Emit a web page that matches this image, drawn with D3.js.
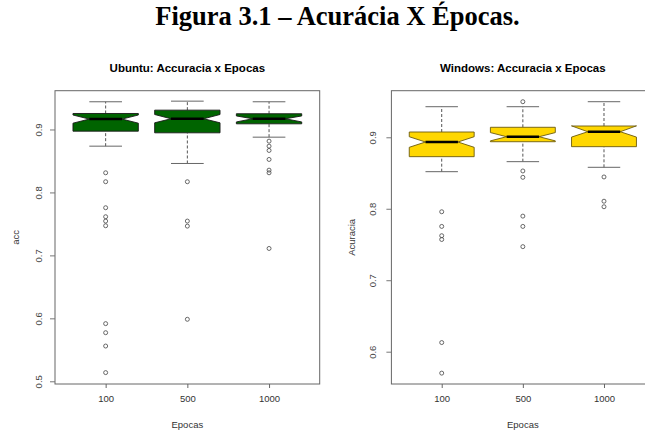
<!DOCTYPE html>
<html>
<head>
<meta charset="utf-8">
<script src="https://cdn.jsdelivr.net/npm/d3@7"></script>
<style>
  body { margin: 0; background: #fff; }
  svg { display: block; }
</style>
</head>
<body>
<div class="chart"></div>
<script>
// categories (x axis)
const epocas = ["100", "500", "1000"];

// box stats per epoch: [whiskerLo, Q1, median, Q3, whiskerHi], notches [lo, hi]
const ubuntuStats = [
    [0.8735, 0.8973, 0.9165, 0.9254, 0.9440],
    [0.8460, 0.8947, 0.9170, 0.9307, 0.9450],
    [0.8878, 0.9090, 0.9170, 0.9250, 0.9440]
];
const ubuntuNotch = [[0.9100, 0.9230], [0.9106, 0.9238], [0.9120, 0.9215]];
const ubuntuOut = [
    [0.8312, 0.8170, 0.7757, 0.7614, 0.7545, 0.7471, 0.5916, 0.5772, 0.5560, 0.5138],
    [0.8170, 0.7545, 0.7465, 0.5985],
    [0.8815, 0.8735, 0.8667, 0.8524, 0.8354, 0.8312, 0.7110]
];
const ubuntuTicks = [0.5, 0.6, 0.7, 0.8, 0.9];

const windowsStats = [
    [0.8519, 0.8729, 0.8934, 0.9074, 0.9428],
    [0.8659, 0.8938, 0.9008, 0.9140, 0.9428],
    [0.8580, 0.8869, 0.9078, 0.9158, 0.9498]
];
const windowsNotch = [[0.8860, 0.9008], [0.8950, 0.9066], [0.9003, 0.9160]];
const windowsOut = [
    [0.7958, 0.7753, 0.7623, 0.7570, 0.6128, 0.5700],
    [0.9498, 0.8529, 0.8440, 0.7897, 0.7753, 0.7470],
    [0.8445, 0.8106, 0.8028]
];
const windowsTicks = [0.6, 0.7, 0.8, 0.9];

const width = 645;
const height = 430;

const svg = d3.select(".chart")
    .append("svg")
    .attr("width", width)
    .attr("height", height);

// figure caption
svg.append("text")
    .attr("x", 337.5)
    .attr("y", 25)
    .attr("text-anchor", "middle")
    .style("font-family", "'Liberation Serif', 'Times New Roman', serif")
    .style("font-weight", "bold")
    .style("font-size", "26.5px")
    .text("Figura 3.1 – Acurácia X Épocas.");

function drawPanel(opt) {
    const g = svg.append("g");

    // x: box index 1..3, R style limits (0.5..3.5 plus 4%)
    const x = d3.scaleLinear()
        .domain([0.38, 3.62])
        .range([opt.left, opt.right]);

    const y = d3.scaleLinear()
        .domain(opt.ylim)
        .range([opt.bottom, opt.top]);

    const halfW = x(1.4) - x(1);   // box half width (0.8 of spacing)

    // whiskers (dashed) + caps
    opt.stats.forEach((s, i) => {
        const cx = x(i + 1);
        g.append("line")
            .attr("x1", cx).attr("x2", cx)
            .attr("y1", y(s[0])).attr("y2", y(s[1]))
            .attr("stroke", "#555").attr("stroke-dasharray", "3,2");
        g.append("line")
            .attr("x1", cx).attr("x2", cx)
            .attr("y1", y(s[3])).attr("y2", y(s[4]))
            .attr("stroke", "#555").attr("stroke-dasharray", "3,2");
        [s[0], s[4]].forEach(v => {
            g.append("line")
                .attr("x1", cx - halfW / 2).attr("x2", cx + halfW / 2)
                .attr("y1", y(v)).attr("y2", y(v))
                .attr("stroke", "#666");
        });
    });

    // notched boxes, same polygon as R's bxp
    opt.stats.forEach((s, i) => {
        const cx = x(i + 1);
        const n = opt.notch[i];
        const pts = [
            [cx - halfW, y(s[1])], [cx - halfW, y(n[0])], [cx - halfW / 2, y(s[2])],
            [cx - halfW, y(n[1])], [cx - halfW, y(s[3])], [cx + halfW, y(s[3])],
            [cx + halfW, y(n[1])], [cx + halfW / 2, y(s[2])], [cx + halfW, y(n[0])],
            [cx + halfW, y(s[1])]
        ];
        g.append("polygon")
            .attr("points", pts.map(p => p.join(",")).join(" "))
            .attr("fill", opt.color)
            .attr("stroke", opt.border)
            .attr("stroke-width", 0.9);
        // median
        g.append("line")
            .attr("x1", cx - halfW / 2).attr("x2", cx + halfW / 2)
            .attr("y1", y(s[2])).attr("y2", y(s[2]))
            .attr("stroke", "black").attr("stroke-width", 2.5);
    });

    // outliers
    opt.out.forEach((vals, i) => {
        g.append("g")
            .selectAll("circle")
            .data(vals)
            .enter()
            .append("circle")
            .attr("cx", x(i + 1))
            .attr("cy", d => y(d))
            .attr("r", 2)
            .attr("fill", "none")
            .attr("stroke", "#444")
            .attr("stroke-width", 0.8);
    });

    // frame
    g.append("rect")
        .attr("x", opt.left).attr("y", opt.top)
        .attr("width", opt.right - opt.left)
        .attr("height", opt.bottom - opt.top)
        .attr("fill", "none")
        .attr("stroke", "#666");

    // y axis, labels turned like R's las=0
    const yAxis = g.append("g")
        .attr("transform", `translate(${opt.left},0)`)
        .call(d3.axisLeft(y).tickValues(opt.ticks).tickSize(5).tickFormat(d3.format(".1f")));
    yAxis.select(".domain").remove();
    yAxis.selectAll("line").attr("stroke", "#777");
    yAxis.selectAll("text")
        .attr("x", 0)
        .attr("dy", "0.35em")
        .attr("text-anchor", "middle")
        .attr("transform", `translate(${-opt.ylabOff},0) rotate(-90)`)
        .attr("fill", "#444")
        .style("font-family", "'Liberation Sans', Arial, sans-serif")
        .style("font-size", "9.5px");

    // x axis
    const xAxis = g.append("g")
        .attr("transform", `translate(0,${opt.bottom})`)
        .call(d3.axisBottom(x).tickValues([1, 2, 3]).tickSize(4).tickFormat(i => epocas[i - 1]));
    xAxis.select(".domain").remove();
    xAxis.selectAll("line").attr("stroke", "#666");
    xAxis.selectAll("text")
        .attr("y", 0)
        .attr("dy", "1.85em")
        .attr("fill", "#333")
        .style("font-family", "'Liberation Sans', Arial, sans-serif")
        .style("font-size", "9.5px");

    // titles
    g.append("text")
        .attr("x", (opt.left + opt.right) / 2)
        .attr("y", 72)
        .attr("text-anchor", "middle")
        .style("font-family", "'Liberation Sans', Arial, sans-serif")
        .style("font-weight", "bold")
        .style("font-size", "11.5px")
        .text(opt.title);

    g.append("text")
        .attr("x", (opt.left + opt.right) / 2)
        .attr("y", 428)
        .attr("text-anchor", "middle")
        .attr("fill", "#333")
        .style("font-family", "'Liberation Sans', Arial, sans-serif")
        .style("font-size", "9.5px")
        .text("Epocas");

    g.append("text")
        .attr("transform", `translate(${opt.ylabX},${(opt.top + opt.bottom) / 2}) rotate(-90)`)
        .attr("text-anchor", "middle")
        .attr("dy", "0.35em")
        .attr("fill", "#333")
        .style("font-family", "'Liberation Sans', Arial, sans-serif")
        .style("font-size", "9.5px")
        .text(opt.ylab);
}

drawPanel({
    left: 55, right: 319.7, top: 90.7, bottom: 384,
    ylim: [0.4957, 0.9616],
    stats: ubuntuStats, notch: ubuntuNotch, out: ubuntuOut, ticks: ubuntuTicks,
    color: "#006400", border: "#1a1a1a",
    title: "Ubuntu: Accuracia x Epocas", ylab: "acc",
    ylabOff: 16.7, ylabX: 15.5
});

drawPanel({
    left: 391.4, right: 654.3, top: 90.7, bottom: 384,
    ylim: [0.5548, 0.9652],
    stats: windowsStats, notch: windowsNotch, out: windowsOut, ticks: windowsTicks,
    color: "#FFD700", border: "#6b5a10",
    title: "Windows: Accuracia x Epocas", ylab: "Acuracia",
    ylabOff: 19, ylabX: 352
});
</script>
</body>
</html>
